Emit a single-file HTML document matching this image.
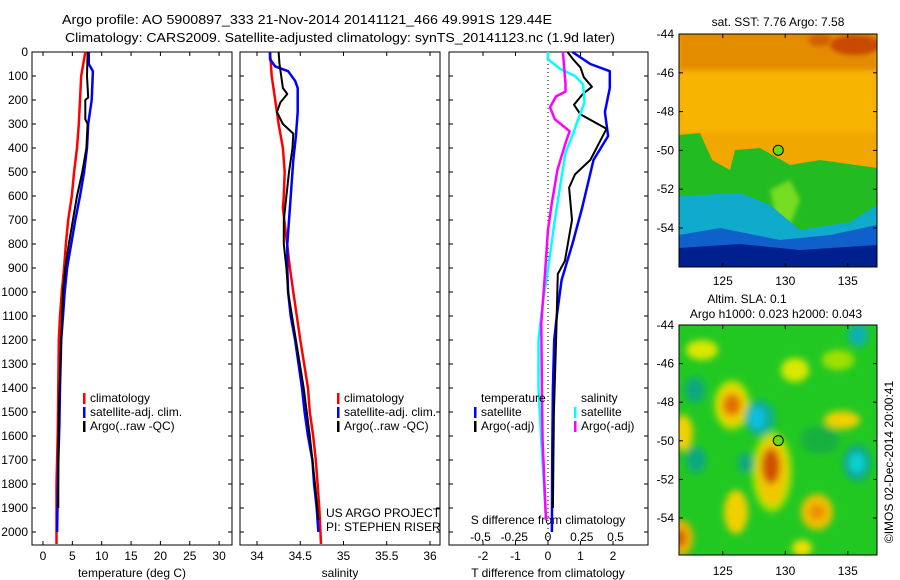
<!DOCTYPE html>
<html><head><meta charset="utf-8"><style>
html,body{margin:0;padding:0;background:#fff;}
svg{display:block;font-family:"Liberation Sans",sans-serif;}
</style></head><body>
<svg id="fig" width="900" height="580" viewBox="0 0 900 580" xmlns="http://www.w3.org/2000/svg">
<defs>
<filter id="bl" x="-50%" y="-50%" width="200%" height="200%"><feGaussianBlur stdDeviation="3.5"/></filter>
<filter id="bl2" x="-50%" y="-50%" width="200%" height="200%"><feGaussianBlur stdDeviation="2.5"/></filter>
<clipPath id="c1"><rect x="679" y="34" width="198" height="233"/></clipPath>
<clipPath id="c2"><rect x="679" y="325" width="198" height="230"/></clipPath>
</defs>
<text x="62" y="24" font-size="13" textLength="490" lengthAdjust="spacingAndGlyphs">Argo profile: AO 5900897_333 21-Nov-2014 20141121_466 49.991S 129.44E</text>
<text x="65" y="42" font-size="13" textLength="550" lengthAdjust="spacingAndGlyphs">Climatology: CARS2009. Satellite-adjusted climatology: synTS_20141123.nc (1.9d later)</text>
<g id="g"></g>
<g clip-path="url(#c1)">
<rect x="679" y="34" width="198" height="233" fill="#f0a800"/>
<rect x="679" y="30" width="198" height="40" fill="#e48c00" filter="url(#bl2)"/>
<ellipse cx="855" cy="45" rx="25" ry="10" fill="#c84800" filter="url(#bl2)"/>
<ellipse cx="820" cy="40" rx="12" ry="6" fill="#d06000" filter="url(#bl2)"/>
<rect x="679" y="72" width="198" height="60" fill="#f7b400" filter="url(#bl2)"/>
<path d="M679 135 L700 133 L712 160 L730 170 L735 150 L760 148 L790 165 L820 160 L877 168 L877 267 L679 267 Z" fill="#22bb22"/>
<path d="M770 190 L790 180 L800 200 L790 225 L775 215 Z" fill="#77dd22" filter="url(#bl2)"/>
<path d="M679 196 L740 193 L770 205 L800 230 L850 222 L877 205 L877 267 L679 267 Z" fill="#10aacc"/>
<path d="M679 235 L720 228 L780 240 L830 235 L877 225 L877 267 L679 267 Z" fill="#1060cc"/>
<path d="M679 248 L740 244 L800 250 L877 245 L877 267 L679 267 Z" fill="#002090"/>
</g>
<g clip-path="url(#c2)">
<rect x="679" y="325" width="198" height="230" fill="#22c822"/>
<g filter="url(#bl)">
<ellipse cx="732" cy="405" rx="18" ry="25" fill="#a8e000"/>
<ellipse cx="732" cy="405" rx="14" ry="20" fill="#f0d000"/>
<ellipse cx="732" cy="405" rx="9" ry="11" fill="#e07000"/>
<ellipse cx="772" cy="472" rx="20" ry="40" fill="#a8e000"/>
<ellipse cx="772" cy="472" rx="15" ry="33" fill="#f0c800"/>
<ellipse cx="771" cy="466" rx="9" ry="18" fill="#d05000"/>
<ellipse cx="683" cy="433" rx="10" ry="18" fill="#f0d000"/>
<ellipse cx="681" cy="538" rx="12" ry="18" fill="#f0b000"/>
<ellipse cx="680" cy="538" rx="6" ry="9" fill="#d06000"/>
<ellipse cx="736" cy="512" rx="12" ry="22" fill="#f0d000"/>
<ellipse cx="817" cy="512" rx="16" ry="18" fill="#f0c000"/>
<ellipse cx="817" cy="512" rx="8" ry="8" fill="#e89000"/>
<ellipse cx="842" cy="420" rx="18" ry="9" fill="#f0d000"/>
<ellipse cx="802" cy="548" rx="10" ry="8" fill="#f0e000"/>
<ellipse cx="760" cy="418" rx="15" ry="18" fill="#10b090"/>
<ellipse cx="757" cy="418" rx="8" ry="11" fill="#10c0e0"/>
<ellipse cx="746" cy="463" rx="8" ry="10" fill="#10a880"/>
<ellipse cx="696" cy="460" rx="10" ry="13" fill="#10a880"/>
<ellipse cx="695" cy="390" rx="10" ry="13" fill="#10a880"/>
<ellipse cx="857" cy="463" rx="14" ry="18" fill="#10a890"/>
<ellipse cx="857" cy="463" rx="8" ry="10" fill="#10d0d0"/>
<ellipse cx="858" cy="335" rx="10" ry="12" fill="#10b0b0"/>
<ellipse cx="795" cy="370" rx="14" ry="12" fill="#d8e800"/>
<ellipse cx="702" cy="350" rx="16" ry="10" fill="#d8e800"/>
<ellipse cx="838" cy="360" rx="16" ry="10" fill="#a0e000"/>
<ellipse cx="820" cy="440" rx="20" ry="14" fill="#18b040"/>
</g>
</g>
</svg>
<script>
const depthTicks=[0,100,200,300,400,500,600,700,800,900,1000,1100,1200,1300,1400,1500,1600,1700,1800,1900,2000];
const tempTicks=[0,5,10,15,20,25,30];
const salTicks=[34,34.5,35,35.5,36];
const tdiffTicks=[-2,-1,0,1,2];
const sdiffTicks=[-0.5,-0.25,0,0.25,0.5];
const sdiffTickLabels=["-0.5","-0.25","0","0.25","0.5"];
const latTicks=[-44,-46,-48,-50,-52,-54];
const lonTicks=[125,130,135];

const tClimDepth=[0,100,200,300,400,500,600,700,800,900,1000,1100,1200,1400,1600,1800,2050];
const tClimVal=[7.2,6.5,6.3,6.1,5.8,5.3,4.9,4.3,3.9,3.6,3.2,2.9,2.7,2.6,2.5,2.3,2.3];
const tSatDepth=[0,50,80,200,300,400,500,600,700,800,900,1000,1100,1200,1400,1550,1700,2000];
const tSatVal=[7.8,7.8,8.5,8.3,7.7,7.5,7.0,6.3,5.5,4.8,4.1,3.7,3.4,3.1,2.9,2.8,2.6,2.4];
const tArgoDepth=[0,100,190,200,280,300,400,500,600,700,800,900,1000,1200,1500,1700,1900];
const tArgoVal=[7.6,7.5,7.7,7.2,7.2,7.6,7.4,6.7,5.8,5.1,4.4,3.8,3.4,3.1,2.7,2.6,2.6];

const sClimDepth=[0,100,200,300,400,500,600,650,900,1000,1100,1200,1400,1500,1600,1700,1800,1900,2050];
const sClimVal=[34.15,34.17,34.21,34.25,34.30,34.32,34.31,34.30,34.38,34.42,34.46,34.50,34.59,34.61,34.65,34.68,34.70,34.72,34.74];
const sSatDepth=[0,30,60,80,120,150,250,350,450,550,650,800,900,1000,1100,1200,1400,1500,1600,1700,1800,1900,2000];
const sSatVal=[34.15,34.15,34.21,34.36,34.44,34.47,34.47,34.45,34.42,34.40,34.38,34.35,34.35,34.36,34.39,34.44,34.52,34.55,34.59,34.64,34.66,34.69,34.71];
const sArgoDepth=[0,50,100,150,175,210,250,300,340,400,500,600,700,800,900,1000,1200,1400,1600,1800,1950];
const sArgoVal=[34.25,34.26,34.28,34.30,34.35,34.27,34.23,34.30,34.42,34.41,34.37,34.34,34.31,34.31,34.34,34.36,34.45,34.54,34.61,34.67,34.71];

const dTSatDepth=[0,50,80,150,250,350,450,650,800,950,1100,1200,1400,1700,2000];
const dTSatVal=[0.75,1.3,1.9,1.9,1.75,1.85,1.4,1.05,0.75,0.42,0.27,0.19,0.15,0.13,0.12];
const dTArgoDepth=[0,30,65,105,145,175,220,260,320,450,510,565,700,870,925,1200,1500,1900];
const dTArgoVal=[0.6,0.77,1.0,1.1,1.35,1.07,0.8,1.0,1.8,1.3,0.83,0.65,0.74,0.52,0.3,0.25,0.18,0.15];
const dSSatDepth=[0,30,70,100,135,210,300,335,420,560,700,905,1050,1200,1400,1620,1950];
const dSSatVal=[0,0,0.09,0.2,0.26,0.27,0.21,0.19,0.13,0.09,0.05,0,-0.04,-0.07,-0.07,-0.05,-0.015];
const dSArgoDepth=[0,65,135,165,185,230,280,330,380,490,625,740,905,1130,1400,1620,1950];
const dSArgoVal=[0.11,0.12,0.13,0.13,0.06,0.015,0.05,0.16,0.13,0.07,0.03,0,-0.02,-0.05,-0.045,-0.04,-0.015];

const argoLon=129.44, argoLat=-49.99;

const Y0=52, Y1=545;
const yD=d=>52+d*0.24;
const xT=t=>43+t*5.87;
const xS=s=>257+(s-34)*86.5;
const xDT=t=>548+t*32.5;
const xDS=s=>548+s*135;
const mX=l=>679+(l-121.5)*12.5;
const mY1=a=>34+(-44-a)*19.4;
const mY2=a=>325+(-44-a)*19.3;

const NS="http://www.w3.org/2000/svg";
const svg=document.getElementById('fig');
const g=document.getElementById('g');
function mk(tag,at,parent){const e=document.createElementNS(NS,tag);for(const k in at)e.setAttribute(k,at[k]);(parent||g).appendChild(e);return e;}
function txt(x,y,s,anchor,size){const e=mk('text',{x:x,y:y,'font-size':size||12,'text-anchor':anchor||'start'});e.textContent=s;return e;}

const panels=[{x0:32,x1:232,name:'temperature-panel'},{x0:240,x1:440,name:'salinity-panel'},{x0:449,x1:648,name:'difference-panel'}];
panels.forEach(p=>{
  const r=mk('rect',{x:p.x0,y:Y0,width:p.x1-p.x0,height:Y1-Y0,fill:'none',stroke:'#000','stroke-width':1});
  
  
  depthTicks.forEach(d=>{
    mk('line',{x1:p.x0,x2:p.x0+4,y1:yD(d),y2:yD(d),stroke:'#000'});
    mk('line',{x1:p.x1-4,x2:p.x1,y1:yD(d),y2:yD(d),stroke:'#000'});
  });
});
depthTicks.forEach(d=>{
  const t=txt(28,yD(d)+4,String(d),'end',12);
  
  
});
function xticks(vals,fx,labels,y,top){
  vals.forEach((v,i)=>{
    const x=fx(v);
    mk('line',{x1:x,x2:x,y1:Y1,y2:Y1-4,stroke:'#000'});
    if(top) mk('line',{x1:x,x2:x,y1:Y0,y2:Y0+4,stroke:'#000'});
    if(y){const t=txt(x,y,labels?labels[i]:String(v),'middle',12);
      
      }
  });
}
xticks(tempTicks,xT,null,560,true);
xticks(salTicks,xS,null,560,true);
xticks(tdiffTicks,xDT,null,560,true);
sdiffTicks.forEach((v,i)=>{const t=txt(xDS(v),541,sdiffTickLabels[i],'middle',12);
  
  });
const zl=mk('line',{x1:xDT(0),x2:xDT(0),y1:Y0,y2:Y1,stroke:'#000','stroke-dasharray':'1,3'});



let lab;
lab=txt(132,577,'temperature (deg C)','middle',12);


lab=txt(340,577,'salinity','middle',12);


lab=txt(548,577,'T difference from climatology','middle',12);


lab=txt(548,524,'S difference from climatology','middle',12);


lab=txt(326,517,'US ARGO PROJECT','start',12);


lab=txt(326,531,'PI: STEPHEN RISER','start',12);



function line(depths,vals,fx,color,w,name){
  const pts=depths.map((d,i)=>fx(vals[i]).toFixed(1)+','+yD(d).toFixed(1)).join(' ');
  const e=mk('polyline',{points:pts,fill:'none',stroke:color,'stroke-width':w,'stroke-linejoin':'round'});
  
  
}
line(tClimDepth,tClimVal,xT,'#ff0000',2.5,'temp-climatology-line');
line(tSatDepth,tSatVal,xT,'#0000ff',2.5,'temp-satellite-line');
line(tArgoDepth,tArgoVal,xT,'#000000',2,'temp-argo-line');
line(sClimDepth,sClimVal,xS,'#ff0000',2.5,'sal-climatology-line');
line(sSatDepth,sSatVal,xS,'#0000ff',2.5,'sal-satellite-line');
line(sArgoDepth,sArgoVal,xS,'#000000',2,'sal-argo-line');
line(dTSatDepth,dTSatVal,xDT,'#0000ff',2.5,'tdiff-satellite-line');
line(dTArgoDepth,dTArgoVal,xDT,'#000000',2,'tdiff-argo-line');
line(dSSatDepth,dSSatVal,xDS,'#00ffff',2.5,'sdiff-satellite-line');
line(dSArgoDepth,dSArgoVal,xDS,'#ff00ff',2.5,'sdiff-argo-line');

function legend(x,y,items){
  items.forEach((it,i)=>{
    const yy=y+i*14;
    if(it[1]) mk('rect',{x:x,y:yy-9,width:2.5,height:11,fill:it[1]});
    const t=txt(x+7,yy,it[0],'start',12);
    
    
  });
}
const L1=[['climatology','#ff0000'],['satellite-adj. clim.','#0000ff'],['Argo(..raw -QC)','#000000']];
legend(83,402,L1);
legend(337,402,L1);
legend(474,402,[['temperature',null],['satellite','#0000ff'],['Argo(-adj)','#000000']]);
legend(574,402,[['salinity',null],['satellite','#00ffff'],['Argo(-adj)','#ff00ff']]);

function mapAxes(fy,top,bottom,labY,name){
  const r=mk('rect',{x:679,y:top,width:198,height:bottom-top,fill:'none',stroke:'#000'});
  
  
  latTicks.forEach(a=>{
    const y=fy(a);
    mk('line',{x1:679,x2:683,y1:y,y2:y,stroke:'#000'});
    mk('line',{x1:873,x2:877,y1:y,y2:y,stroke:'#000'});
    const t=txt(674,y+4,String(a),'end',12);
    
    
  });
  lonTicks.forEach(l=>{
    const x=mX(l);
    mk('line',{x1:x,x2:x,y1:bottom,y2:bottom-4,stroke:'#000'});
    mk('line',{x1:x,x2:x,y1:top,y2:top+4,stroke:'#000'});
    const t=txt(x,labY,String(l),'middle',12);
    
    
  });
  const c=mk('circle',{cx:mX(argoLon),cy:fy(argoLat),r:5,fill:'#66dd11',stroke:'#000','stroke-width':1});
  
  
}
svg.appendChild(g);
mapAxes(mY1,34,267,285,'sst-map');
mapAxes(mY2,325,555,575,'sla-map');
lab=txt(778,26,'sat. SST: 7.76 Argo: 7.58','middle',12);


lab=txt(747,303,'Altim. SLA: 0.1','middle',12);


lab=txt(776,318,'Argo h1000: 0.023 h2000: 0.043','middle',12);


lab=txt(0,0,'©IMOS 02-Dec-2014 20:00:41','middle',12);
lab.setAttribute('transform','translate(893,462) rotate(-90)');


</script>
</body></html>
